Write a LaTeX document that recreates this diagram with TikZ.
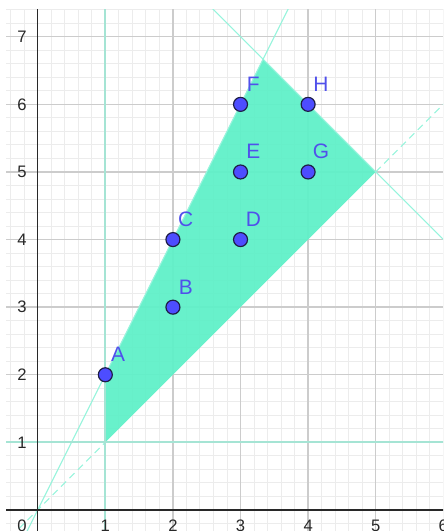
\documentclass[tikz,border=0pt]{standalone}
\usepackage{fontspec}
\setmainfont{Liberation Sans}
\usetikzlibrary{calc}
\definecolor{regionc}{RGB}{96,240,200}
\definecolor{linec}{RGB}{150,244,220}
\definecolor{vlinec}{RGB}{165,228,212}
\definecolor{ptfill}{RGB}{77,77,255}
\definecolor{ptdraw}{RGB}{30,30,70}
\definecolor{lblc}{RGB}{80,80,235}
\definecolor{minorc}{RGB}{236,236,236}
\definecolor{majorc}{RGB}{204,204,204}
\definecolor{axisc}{RGB}{40,40,40}
\tikzset{
  pt/.style={circle, fill=ptfill, draw=ptdraw, line width=0.5pt, minimum size=0.207cm, inner sep=0pt},
  lbl/.style={text=lblc, font=\fontsize{8.8}{9}\selectfont, inner sep=0pt},
  tick/.style={text=axisc, font=\fontsize{7}{8}\selectfont, inner sep=0pt},
  auxline/.style={draw=linec, line width=0.45pt},
  bdline/.style={draw=vlinec, line width=0.85pt},
}
\begin{document}
\begin{tikzpicture}
\useasboundingbox (-0.558,-0.311) rectangle (5.996,7.544);
\begin{scope}
\clip (-0.469,-0.311) rectangle (5.996,7.396);
\draw[minorc, line width=0.4pt, step=0.2] (-0.6,-0.6) grid (6.2,7.6);
\draw[majorc, line width=0.6pt, step=1] (-1,-1) grid (6.2,7.6);
\fill[regionc, opacity=0.95] (1,1) -- (1,2) -- (10/3,20/3) -- (5,5) -- cycle;
\draw[auxline] (-0.2,-0.4) -- (3.8,7.6);
\draw[auxline, dash pattern=on 3pt off 2pt] (-0.4,-0.4) -- (1,1);
\draw[auxline, dash pattern=on 3pt off 2pt] (5,5) -- (6.2,6.2);
\draw[auxline] (2.4,7.6) -- (6.2,3.8);
\draw[bdline] (1,-0.5) -- (1,7.6);
\draw[bdline] (-0.6,1) -- (6.2,1);
\draw[axisc, line width=0.6pt] (-0.6,0) -- (6.2,0);
\draw[axisc, line width=0.6pt] (0,-0.5) -- (0,7.6);
\end{scope}
\node[tick] (x0) at (-0.232,-0.237) {0};
\foreach \i in {1,...,6} {\node[tick] (x\i) at (\i,-0.237) {\i};}
\foreach \i in {1,...,7} {\node[tick] (y\i) at (-0.232,\i) {\i};}
\node[pt] (A) at (1,2) {};
\node[pt] (B) at (2,3) {};
\node[pt] (C) at (2,4) {};
\node[pt] (D) at (3,4) {};
\node[pt] (E) at (3,5) {};
\node[pt] (F) at (3,6) {};
\node[pt] (G) at (4,5) {};
\node[pt] (H) at (4,6) {};
\foreach \p in {A,B,C,D,E,F,G,H} {\node[lbl] (l\p) at ($(\p)+(0.19,0.30)$) {\p};}
\end{tikzpicture}
\end{document}
